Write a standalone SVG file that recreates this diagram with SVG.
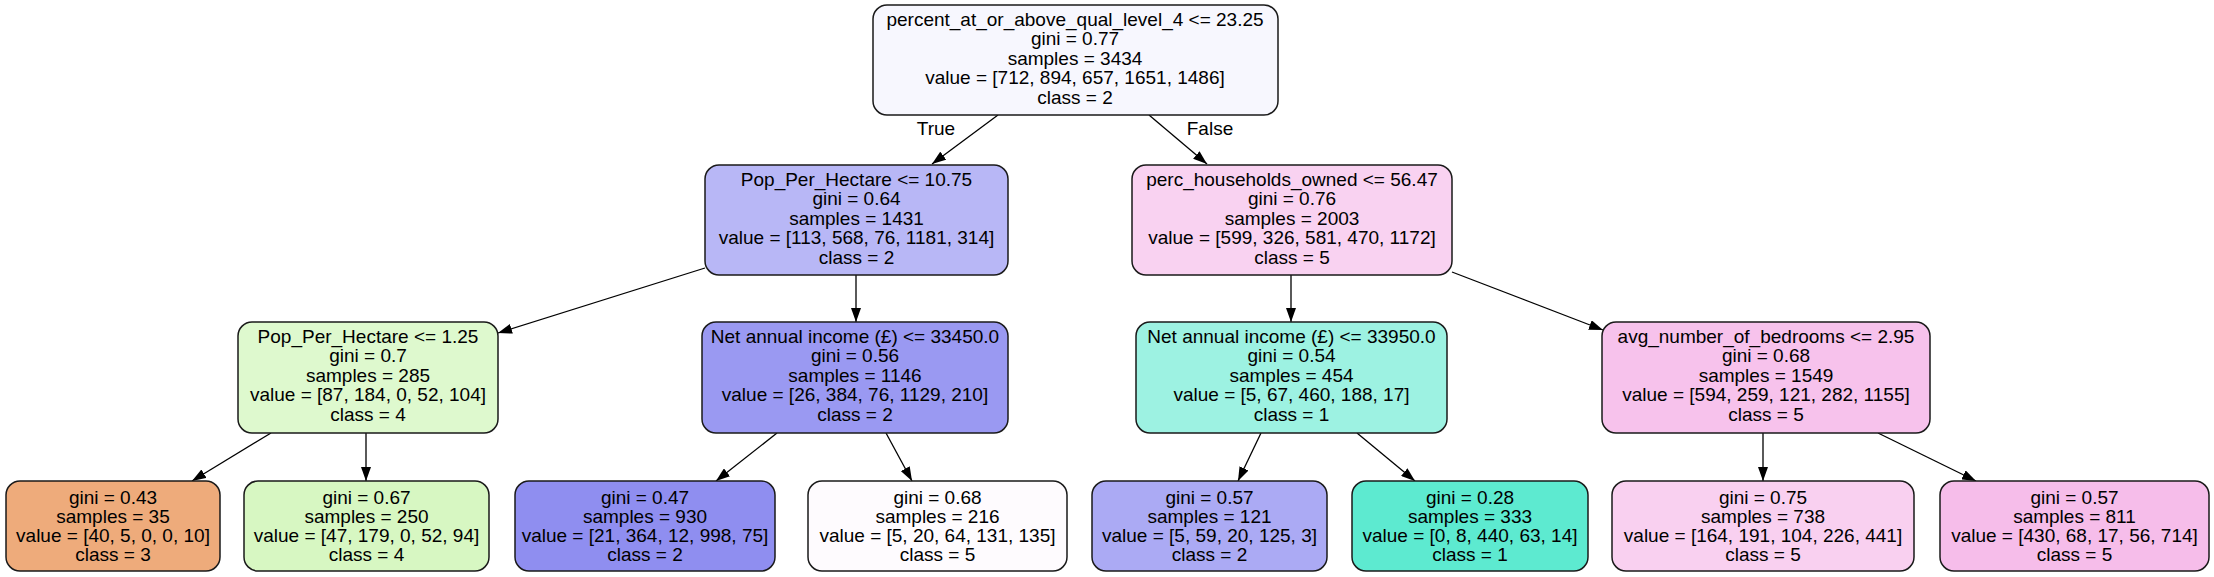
<svg xmlns="http://www.w3.org/2000/svg" width="2214" height="577" viewBox="0 0 2214 577">
<defs>
<style>
.box{stroke:#1a1a1a;stroke-width:1.5}
text{font-family:"Liberation Sans",Arial,Helvetica,sans-serif;font-size:19px;fill:#000;text-anchor:middle}
.edge{stroke:#000;stroke-width:1.3;fill:none;marker-end:url(#arr)}
</style>
<marker id="arr" viewBox="0 0 14 10" refX="14" refY="5" markerWidth="14" markerHeight="10" markerUnits="userSpaceOnUse" orient="auto">
<path d="M0,0 L14,5 L0,10 z" fill="#000"/>
</marker>
</defs>
<rect width="2214" height="577" fill="#fff"/>
<g id="connectors">
<line class="edge" x1="998" y1="115" x2="932" y2="164"/>
<line class="edge" x1="1149" y1="115" x2="1207" y2="164"/>
<line class="edge" x1="705" y1="268" x2="498" y2="333"/>
<line class="edge" x1="856" y1="275" x2="856" y2="322"/>
<line class="edge" x1="1291" y1="275" x2="1291" y2="322"/>
<line class="edge" x1="1452" y1="272" x2="1603" y2="330"/>
<line class="edge" x1="271" y1="433" x2="192" y2="481"/>
<line class="edge" x1="366" y1="433" x2="366" y2="481"/>
<line class="edge" x1="777" y1="433" x2="716" y2="481"/>
<line class="edge" x1="886" y1="433" x2="912" y2="481"/>
<line class="edge" x1="1261" y1="433" x2="1238" y2="481"/>
<line class="edge" x1="1357" y1="433" x2="1415" y2="481"/>
<line class="edge" x1="1763" y1="433" x2="1763" y2="481"/>
<line class="edge" x1="1878" y1="433" x2="1976" y2="481"/>
<text x="936" y="135">True</text>
<text x="1210" y="135">False</text>
</g>
<g id="n0">
<rect class="box" x="873" y="5" width="405" height="110" rx="14" fill="#f7f7fe"/>
<text x="1075" y="25.5">percent_at_or_above_qual_level_4 &lt;= 23.25</text>
<text x="1075" y="45">gini = 0.77</text>
<text x="1075" y="64.5">samples = 3434</text>
<text x="1075" y="84">value = [712, 894, 657, 1651, 1486]</text>
<text x="1075" y="103.5">class = 2</text>
</g>
<g id="n1">
<rect class="box" x="705" y="165" width="303" height="110" rx="14" fill="#b8b7f6"/>
<text x="856.5" y="185.5">Pop_Per_Hectare &lt;= 10.75</text>
<text x="856.5" y="205">gini = 0.64</text>
<text x="856.5" y="224.5">samples = 1431</text>
<text x="856.5" y="244">value = [113, 568, 76, 1181, 314]</text>
<text x="856.5" y="263.5">class = 2</text>
</g>
<g id="n2">
<rect class="box" x="1132" y="165" width="320" height="110" rx="14" fill="#f9d2f1"/>
<text x="1292" y="185.5">perc_households_owned &lt;= 56.47</text>
<text x="1292" y="205">gini = 0.76</text>
<text x="1292" y="224.5">samples = 2003</text>
<text x="1292" y="244">value = [599, 326, 581, 470, 1172]</text>
<text x="1292" y="263.5">class = 5</text>
</g>
<g id="n3">
<rect class="box" x="238" y="322" width="260" height="111" rx="14" fill="#def9ce"/>
<text x="368" y="342.5">Pop_Per_Hectare &lt;= 1.25</text>
<text x="368" y="362">gini = 0.7</text>
<text x="368" y="381.5">samples = 285</text>
<text x="368" y="401">value = [87, 184, 0, 52, 104]</text>
<text x="368" y="420.5">class = 4</text>
</g>
<g id="n4">
<rect class="box" x="702" y="322" width="306" height="111" rx="14" fill="#9a99f2"/>
<text x="855" y="342.5">Net annual income (£) &lt;= 33450.0</text>
<text x="855" y="362">gini = 0.56</text>
<text x="855" y="381.5">samples = 1146</text>
<text x="855" y="401">value = [26, 384, 76, 1129, 210]</text>
<text x="855" y="420.5">class = 2</text>
</g>
<g id="n5">
<rect class="box" x="1136" y="322" width="311" height="111" rx="14" fill="#9df2e2"/>
<text x="1291.5" y="342.5">Net annual income (£) &lt;= 33950.0</text>
<text x="1291.5" y="362">gini = 0.54</text>
<text x="1291.5" y="381.5">samples = 454</text>
<text x="1291.5" y="401">value = [5, 67, 460, 188, 17]</text>
<text x="1291.5" y="420.5">class = 1</text>
</g>
<g id="n6">
<rect class="box" x="1602" y="322" width="328" height="111" rx="14" fill="#f7c2ec"/>
<text x="1766" y="342.5">avg_number_of_bedrooms &lt;= 2.95</text>
<text x="1766" y="362">gini = 0.68</text>
<text x="1766" y="381.5">samples = 1549</text>
<text x="1766" y="401">value = [594, 259, 121, 282, 1155]</text>
<text x="1766" y="420.5">class = 5</text>
</g>
<g id="l1">
<rect class="box" x="6" y="481" width="214" height="90" rx="14" fill="#eeab7b"/>
<text x="113" y="503.5">gini = 0.43</text>
<text x="113" y="522.5">samples = 35</text>
<text x="113" y="541.5">value = [40, 5, 0, 0, 10]</text>
<text x="113" y="560.5">class = 3</text>
</g>
<g id="l2">
<rect class="box" x="244" y="481" width="245" height="90" rx="14" fill="#d7f7c2"/>
<text x="366.5" y="503.5">gini = 0.67</text>
<text x="366.5" y="522.5">samples = 250</text>
<text x="366.5" y="541.5">value = [47, 179, 0, 52, 94]</text>
<text x="366.5" y="560.5">class = 4</text>
</g>
<g id="l3">
<rect class="box" x="515" y="481" width="260" height="90" rx="14" fill="#8f8ef0"/>
<text x="645" y="503.5">gini = 0.47</text>
<text x="645" y="522.5">samples = 930</text>
<text x="645" y="541.5">value = [21, 364, 12, 998, 75]</text>
<text x="645" y="560.5">class = 2</text>
</g>
<g id="l4">
<rect class="box" x="808" y="481" width="259" height="90" rx="14" fill="#fefbfe"/>
<text x="937.5" y="503.5">gini = 0.68</text>
<text x="937.5" y="522.5">samples = 216</text>
<text x="937.5" y="541.5">value = [5, 20, 64, 131, 135]</text>
<text x="937.5" y="560.5">class = 5</text>
</g>
<g id="l5">
<rect class="box" x="1092" y="481" width="235" height="90" rx="14" fill="#abaaf4"/>
<text x="1209.5" y="503.5">gini = 0.57</text>
<text x="1209.5" y="522.5">samples = 121</text>
<text x="1209.5" y="541.5">value = [5, 59, 20, 125, 3]</text>
<text x="1209.5" y="560.5">class = 2</text>
</g>
<g id="l6">
<rect class="box" x="1352" y="481" width="236" height="90" rx="14" fill="#5dead0"/>
<text x="1470" y="503.5">gini = 0.28</text>
<text x="1470" y="522.5">samples = 333</text>
<text x="1470" y="541.5">value = [0, 8, 440, 63, 14]</text>
<text x="1470" y="560.5">class = 1</text>
</g>
<g id="l7">
<rect class="box" x="1612" y="481" width="302" height="90" rx="14" fill="#f9d0f0"/>
<text x="1763" y="503.5">gini = 0.75</text>
<text x="1763" y="522.5">samples = 738</text>
<text x="1763" y="541.5">value = [164, 191, 104, 226, 441]</text>
<text x="1763" y="560.5">class = 5</text>
</g>
<g id="l8">
<rect class="box" x="1940" y="481" width="269" height="90" rx="14" fill="#f6bdea"/>
<text x="2074.5" y="503.5">gini = 0.57</text>
<text x="2074.5" y="522.5">samples = 811</text>
<text x="2074.5" y="541.5">value = [430, 68, 17, 56, 714]</text>
<text x="2074.5" y="560.5">class = 5</text>
</g>
</svg>
